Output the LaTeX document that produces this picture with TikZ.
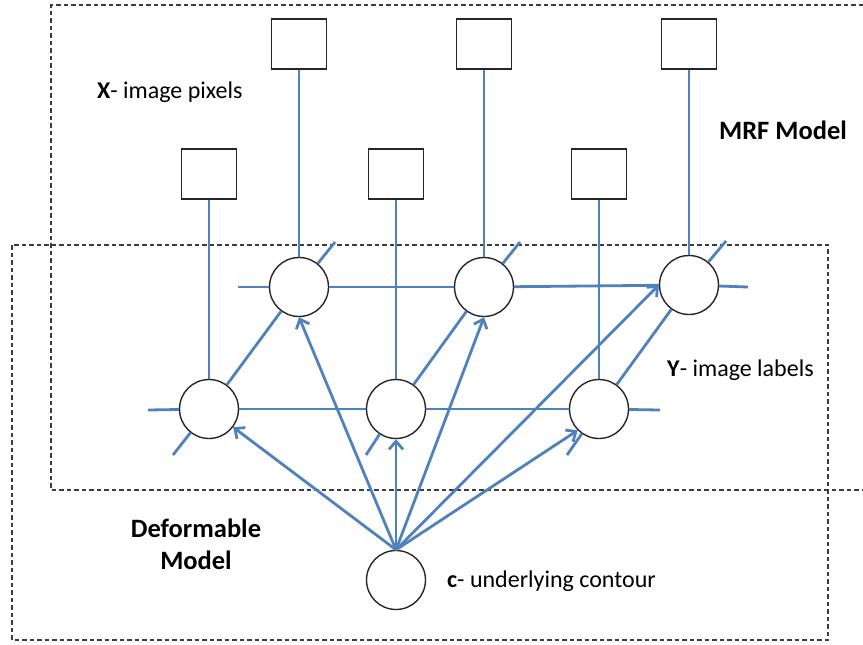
\documentclass[tikz,border=0pt]{standalone}
\usepackage{fontspec}
\setmainfont{Carlito}
\usetikzlibrary{arrows.meta,calc}
\definecolor{edgeblue}{RGB}{79,129,189}
\definecolor{boxgray}{RGB}{60,60,60}
\tikzset{
  pixel/.style={draw=black!85,line width=1.4pt,fill=white,minimum width=55pt,minimum height=50pt,inner sep=0pt},
  label/.style={draw=black!85,line width=1.4pt,fill=white,circle,minimum size=59pt,inner sep=0pt},
  edge/.style={draw=edgeblue,line width=2.8pt},
  arr/.style={edge,-{Straight Barb[length=8pt,width=14pt]}},
  dashbox/.style={draw=boxgray,line width=1.2pt,dash pattern=on 4.5pt off 3pt},
  txt/.style={font=\fontsize{24}{29}\selectfont,inner sep=0pt},
  btxt/.style={font=\fontsize{26.5}{32}\selectfont\bfseries,inner sep=0pt,align=center}
}
\begin{document}
\begin{tikzpicture}[x=1pt,y=-1pt]
\useasboundingbox (0,0) rectangle (863,645);
% dashed model boxes
\draw[dashbox] (863,5) -- (51,5) -- (51,490) -- (863,490);
\draw[dashbox] (12,245) rectangle (828,640);
% X pixels
\node[pixel] (x1) at (299,44) {};
\node[pixel] (x2) at (484,44) {};
\node[pixel] (x3) at (689,44) {};
\node[pixel] (x4) at (209,174) {};
\node[pixel] (x5) at (396,174) {};
\node[pixel] (x6) at (599,174) {};
% Y labels
\node[label] (ya) at (299,287) {};
\node[label] (yb) at (484,287) {};
\node[label] (yc) at (689,285) {};
\node[label] (yd) at (209,409) {};
\node[label] (ye) at (396,409) {};
\node[label] (yf) at (599,409) {};
% contour
\node[label] (c) at (396,580) {};
% free ends of lattice stubs
\coordinate (hl1) at (238,287);
\coordinate (hr1) at (748,287);
\coordinate (hl2) at (148,410);
\coordinate (hr2) at (660,410);
\coordinate (sa) at ($(ya)+(36,-45)$);
\coordinate (sb) at ($(yb)+(36,-45)$);
\coordinate (sc) at ($(yc)+(37,-44)$);
\coordinate (sd) at ($(yd)+(-36,46)$);
\coordinate (se) at ($(ye)+(-30,46)$);
\coordinate (sf) at ($(yf)+(-32,46)$);
% pixel-label edges
\draw[edge] (x1) -- (ya);
\draw[edge] (x2) -- (yb);
\draw[edge] (x3) -- (yc);
\draw[edge] (x4) -- (yd);
\draw[edge] (x5) -- (ye);
\draw[edge] (x6) -- (yf);
% lattice
\draw[edge] (hl1) -- (ya);
\draw[edge] (ya) -- (yb);
\draw[edge] (yb) -- (yc);
\draw[edge] (yc) -- (hr1);
\draw[edge] (hl2) -- (yd);
\draw[edge] (yd) -- (ye);
\draw[edge] (ye) -- (yf);
\draw[edge] (yf) -- (hr2);
\draw[edge] (yd) -- (ya);
\draw[edge] (ye) -- (yb);
\draw[edge] (yf) -- (yc);
\draw[edge] (ya) -- (sa);
\draw[edge] (yb) -- (sb);
\draw[edge] (yc) -- (sc);
\draw[edge] (yd) -- (sd);
\draw[edge] (ye) -- (se);
\draw[edge] (yf) -- (sf);
% contour arrows
\draw[arr] (c.north) -- (yd);
\draw[arr] (c.north) -- (ya.south);
\draw[arr] (c.north) -- (ye.south);
\draw[arr] (c.north) -- (yb.south);
\draw[arr] (c.north) -- (yc.west);
\draw[arr] (c.north) -- (yf.225);
% texts
\node[txt,anchor=west] (tx) at (97,92) {\textbf{X}- image pixels};
\node[txt,anchor=west] (ty) at (667,370) {\textbf{Y}- image labels};
\node[txt,anchor=west] (tc) at (447,581) {\textbf{c}- underlying contour};
\node[btxt] (tm) at (783,130) {MRF Model};
\node[btxt] (td) at (196,544) {Deformable\\Model};
\end{tikzpicture}
\end{document}
